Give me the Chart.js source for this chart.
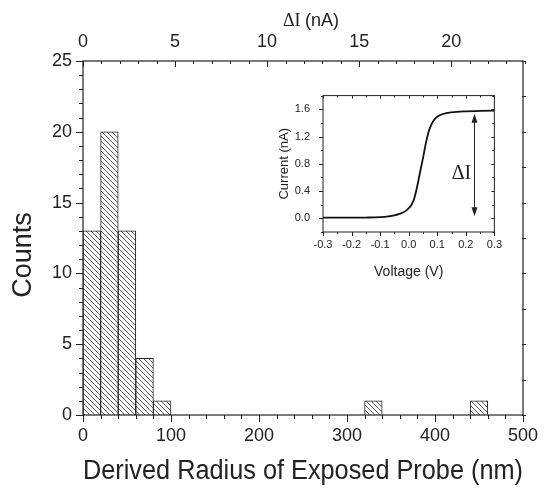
<!DOCTYPE html>
<html>
<head>
<meta charset="utf-8">
<script src="https://cdn.jsdelivr.net/npm/chart.js@4.4.0/dist/chart.umd.min.js"></script>
<style>
  body { margin: 0; background: #fff; }
  #wrap { position: relative; width: 548px; height: 488px; }
  #mainChart { position: absolute; left: 0; top: 0; }
  #insetChart { position: absolute; left: 268px; top: 76px; }
</style>
</head>
<body>
<div id="wrap">
  <canvas id="mainChart" width="548" height="488"></canvas>
  <canvas id="insetChart" width="240" height="210"></canvas>
</div>
<script>
// histogram: bin start (nm) and counts
const binWidth = 20;
const binStarts = [0, 20, 40, 60, 80, 320, 440];
const counts = [13, 20, 13, 4, 1, 1, 1];

const radiusTicks = [0, 100, 200, 300, 400, 500];
const countTicks = [0, 5, 10, 15, 20, 25];
const deltaITicks = [0, 5, 10, 15, 20];
const deltaIMax = 23.9;

// inset I-V curve
const voltage = [-0.30, -0.20, -0.15, -0.10, -0.07, -0.05, -0.03, -0.01, 0.00, 0.01, 0.02, 0.03, 0.04, 0.05, 0.06, 0.07, 0.08, 0.09, 0.10, 0.12, 0.15, 0.20, 0.25, 0.30];
const current = [0.01, 0.01, 0.012, 0.018, 0.03, 0.045, 0.07, 0.11, 0.15, 0.20, 0.30, 0.47, 0.68, 0.88, 1.10, 1.27, 1.38, 1.45, 1.49, 1.53, 1.555, 1.57, 1.575, 1.58];
const voltageTicks = [-0.3, -0.2, -0.1, 0.0, 0.1, 0.2, 0.3];
const currentTicks = [0.0, 0.4, 0.8, 1.2, 1.6];
const arrowV = 0.228;
const arrowI = [0.03, 1.535];
const labelPos = [0.185, 0.66];

const INK = "#222";
const SANS = "'Liberation Sans', Arial, sans-serif";
const SERIF = "'Liberation Serif', 'Times New Roman', serif";
Chart.defaults.font.family = SANS;
Chart.defaults.color = INK;

// hatch fill for the bars
function makeHatch() {
  const c = document.createElement("canvas");
  c.width = 5;
  c.height = 5;
  const g = c.getContext("2d");
  g.fillStyle = "#fff";
  g.fillRect(0, 0, 5, 5);
  g.strokeStyle = "#333";
  g.lineWidth = 0.8;
  g.beginPath();
  g.moveTo(-1, -1); g.lineTo(6, 6);
  g.moveTo(-1, 4); g.lineTo(1, 6);
  g.moveTo(4, -1); g.lineTo(6, 1);
  g.stroke();
  return g.createPattern(c, "repeat");
}

// frame + major/minor tick marks on each edge
const edgeTicks = {
  id: "edgeTicks",
  afterDraw(chart, args, opts) {
    const { ctx, chartArea: a } = chart;
    ctx.save();
    ctx.strokeStyle = INK;
    ctx.lineWidth = 1;
    opts.specs.forEach((s) => {
      const sc = chart.scales[s.scale];
      const n = Math.round((sc.max - sc.min) / s.step);
      for (let i = 0; i <= n; i++) {
        const v = sc.min + i * s.step;
        const isMajor = Math.abs(v / s.major - Math.round(v / s.major)) < 1e-6;
        const [outL, inL] = isMajor ? s.majorLen : s.minorLen;
        const p = Math.round(sc.getPixelForValue(v)) + 0.5;
        ctx.beginPath();
        if (s.edge === "bottom") { ctx.moveTo(p, a.bottom + outL); ctx.lineTo(p, a.bottom - inL); }
        if (s.edge === "top") { ctx.moveTo(p, a.top - outL); ctx.lineTo(p, a.top + inL); }
        if (s.edge === "left") { ctx.moveTo(a.left - outL, p); ctx.lineTo(a.left + inL, p); }
        if (s.edge === "right") { ctx.moveTo(a.right + outL, p); ctx.lineTo(a.right - inL, p); }
        ctx.stroke();
      }
    });
    ctx.lineWidth = opts.frame;
    ctx.strokeRect(a.left, a.top, a.right - a.left, a.bottom - a.top);
    ctx.restore();
  },
};

// "Counts" and the mixed-font top title
const mainText = {
  id: "mainText",
  afterDraw(chart) {
    const { ctx, chartArea: a } = chart;
    ctx.save();
    ctx.fillStyle = INK;
    ctx.textBaseline = "middle";
    ctx.save();
    ctx.translate(24, (a.top + a.bottom) / 2 + 17);
    ctx.rotate(-Math.PI / 2);
    ctx.textAlign = "center";
    ctx.font = "27px " + SANS;
    ctx.fillText("Counts", 0, 0);
    ctx.restore();

    const part1 = "\u0394I ";
    const part2 = "(nA)";
    ctx.font = "18px " + SERIF;
    const w1 = ctx.measureText(part1).width;
    ctx.font = "18px " + SANS;
    const w2 = ctx.measureText(part2).width;
    const x0 = (a.left + a.right) / 2 + 8 - (w1 + w2) / 2;
    ctx.textAlign = "left";
    ctx.font = "18px " + SERIF;
    ctx.fillText(part1, x0, 21);
    ctx.font = "18px " + SANS;
    ctx.fillText(part2, x0 + w1, 21);
    ctx.restore();
  },
};

// double arrow and ΔI label in the inset
const insetMarks = {
  id: "insetMarks",
  afterDatasetsDraw(chart) {
    const { ctx, scales: { x, y } } = chart;
    const px = Math.round(x.getPixelForValue(arrowV)) + 0.5;
    const y0 = y.getPixelForValue(arrowI[0]);
    const y1 = y.getPixelForValue(arrowI[1]);
    ctx.save();
    ctx.strokeStyle = INK;
    ctx.fillStyle = INK;
    ctx.lineWidth = 1;
    ctx.beginPath();
    ctx.moveTo(px, y0 - 6);
    ctx.lineTo(px, y1 + 6);
    ctx.stroke();
    ctx.beginPath();
    ctx.moveTo(px, y1); ctx.lineTo(px - 3, y1 + 9); ctx.lineTo(px + 3, y1 + 9); ctx.closePath();
    ctx.moveTo(px, y0); ctx.lineTo(px - 3, y0 - 9); ctx.lineTo(px + 3, y0 - 9); ctx.closePath();
    ctx.fill();
    ctx.font = "20px " + SERIF;
    ctx.textAlign = "center";
    ctx.textBaseline = "middle";
    ctx.fillText("\u0394I", x.getPixelForValue(labelPos[0]), y.getPixelForValue(labelPos[1]));
    ctx.restore();
  },
};

const setTicks = (vals) => (scale) => {
  scale.ticks = vals.map((v) => ({ value: v }));
};

new Chart(document.getElementById("mainChart"), {
  type: "bar",
  data: {
    datasets: [
      {
        data: binStarts.map((b, i) => ({ x: b + binWidth / 2, y: counts[i] })),
        backgroundColor: makeHatch(),
        borderColor: INK,
        borderWidth: 1,
        barPercentage: 1,
        categoryPercentage: 1,
      },
    ],
  },
  options: {
    responsive: false,
    animation: false,
    layout: { padding: 0 },
    plugins: {
      legend: { display: false },
      tooltip: { enabled: false },
      edgeTicks: {
        frame: 1.2,
        specs: [
          { scale: "x", edge: "bottom", step: 20, major: 100, majorLen: [7, 0], minorLen: [4, 0] },
          { scale: "x2", edge: "top", step: 1, major: 5, majorLen: [0, 6], minorLen: [0, 3] },
          { scale: "y", edge: "left", step: 1, major: 5, majorLen: [7, 0], minorLen: [4, 0] },
          { scale: "y2", edge: "right", step: 2.5, major: 2.5, majorLen: [3, 1], minorLen: [3, 1] },
        ],
      },
    },
    scales: {
      x: {
        type: "linear",
        min: 0,
        max: 500,
        offset: false,
        grid: { display: false, drawTicks: false, offset: false },
        border: { display: false },
        afterBuildTicks: setTicks(radiusTicks),
        afterFit: (s) => { s.height = 73; },
        ticks: { padding: 10, font: { size: 18 }, color: INK, maxRotation: 0, autoSkip: false },
        title: { display: true, text: "Derived Radius of Exposed Probe (nm)", font: { size: 27 }, color: INK, padding: { top: 0, bottom: 0 } },
      },
      x2: {
        type: "linear",
        axis: "x",
        position: "top",
        min: 0,
        max: deltaIMax,
        offset: false,
        grid: { display: false, drawTicks: false, offset: false },
        border: { display: false },
        afterBuildTicks: setTicks(deltaITicks),
        afterFit: (s) => { s.height = 61; },
        ticks: { padding: 8, font: { size: 18 }, color: INK, maxRotation: 0, autoSkip: false },
      },
      y: {
        min: 0,
        max: 25,
        grid: { display: false, drawTicks: false },
        border: { display: false },
        afterBuildTicks: setTicks(countTicks),
        afterFit: (s) => { s.width = 83; },
        ticks: { padding: 11, font: { size: 18 }, color: INK, autoSkip: false },
      },
      y2: {
        axis: "y",
        position: "right",
        min: 0,
        max: 25,
        grid: { display: false, drawTicks: false },
        border: { display: false },
        ticks: { display: false },
        afterFit: (s) => { s.width = 25; },
      },
    },
  },
  plugins: [edgeTicks, mainText],
});

new Chart(document.getElementById("insetChart"), {
  type: "line",
  data: {
    datasets: [
      {
        data: voltage.map((v, i) => ({ x: v, y: current[i] })),
        borderColor: "#111",
        borderWidth: 1.8,
        pointRadius: 0,
        cubicInterpolationMode: "monotone",
        fill: false,
      },
    ],
  },
  options: {
    responsive: false,
    animation: false,
    layout: { padding: { top: 7, right: 10, left: 0, bottom: 0 } },
    plugins: {
      legend: { display: false },
      tooltip: { enabled: false },
      edgeTicks: {
        frame: 1,
        specs: [
          { scale: "x", edge: "bottom", step: 0.05, major: 0.1, majorLen: [4, 0], minorLen: [2, 0] },
          { scale: "x", edge: "top", step: 0.05, major: 0.1, majorLen: [0, 3], minorLen: [0, 2] },
          { scale: "y", edge: "left", step: 0.2, major: 0.4, majorLen: [4, 0], minorLen: [2, 0] },
          { scale: "y", edge: "right", step: 0.2, major: 0.4, majorLen: [0, 3], minorLen: [0, 2] },
        ],
      },
    },
    scales: {
      x: {
        type: "linear",
        min: -0.3,
        max: 0.3,
        grid: { display: false, drawTicks: false },
        border: { display: false },
        afterBuildTicks: setTicks(voltageTicks),
        afterFit: (s) => { s.height = 54; },
        ticks: { padding: 6, font: { size: 11 }, color: INK, maxRotation: 0, autoSkip: false, callback: (v) => Number(v).toFixed(1) },
        title: { display: true, text: "Voltage (V)", font: { size: 14 }, color: INK, padding: { top: 0, bottom: 5 } },
      },
      y: {
        type: "linear",
        min: -0.2,
        max: 1.8,
        grid: { display: false, drawTicks: false },
        border: { display: false },
        afterBuildTicks: setTicks(currentTicks),
        afterFit: (s) => { s.width = 55; },
        ticks: { padding: 13, font: { size: 11 }, color: INK, autoSkip: false, callback: (v) => Number(v).toFixed(1) },
        title: { display: true, text: "Current (nA)", font: { size: 13 }, color: INK, padding: { top: 9, bottom: 0 } },
      },
    },
  },
  plugins: [edgeTicks, insetMarks],
});
</script>
</body>
</html>
